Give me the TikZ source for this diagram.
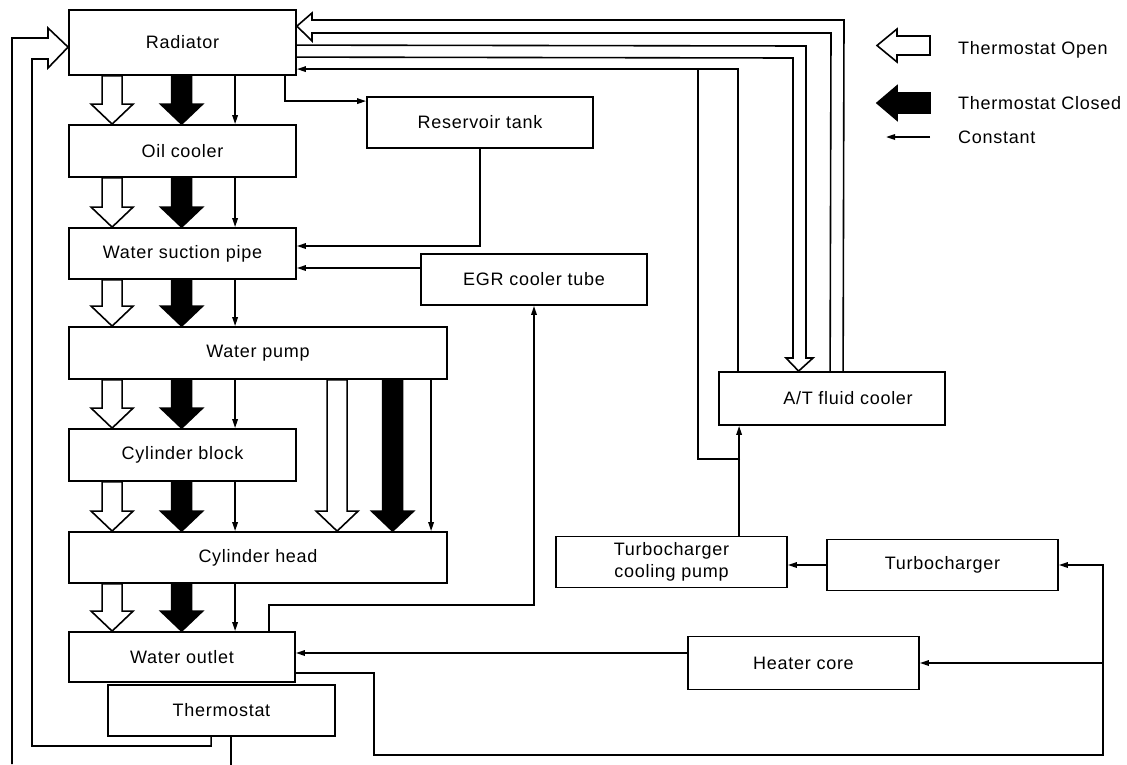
\documentclass[tikz,border=0pt]{standalone}
\usepackage{fontspec}
\setmainfont{Liberation Sans}[LetterSpace=4]
\usetikzlibrary{calc,arrows.meta}
\newcommand\vblk[3]{%
  \filldraw[fill=#1, line width=1.6pt, line join=miter] let \p1=#2, \p2=#3 in
    (\x1-10pt,\y1) -- (\x1+10pt,\y1) -- (\x1+10pt,\y2+20pt) -- (\x1+21pt,\y2+20pt)
    -- (\x1,\y2) -- (\x1-21pt,\y2+20pt) -- (\x1-10pt,\y2+20pt) -- cycle;}
\begin{document}
\begin{tikzpicture}[x=1pt,y=-1pt,
  box/.style={draw, line width=1.8pt, inner sep=0pt, align=center,
    font=\fontsize{18}{22}\selectfont},
  con/.style={line width=1.6pt, -{Triangle[length=9pt,width=5.5pt]}},
  ln/.style={line width=1.6pt, line join=miter},
  legtext/.style={anchor=west, inner sep=0pt, font=\fontsize{18}{22}\selectfont}]
\useasboundingbox (0,0) rectangle (1127,764);

% boxes
\node[box, minimum width=227pt, minimum height=65pt] (rad) at (182.5,42.5) {Radiator};
\node[box, minimum width=227pt, minimum height=52pt] (oil) at (182.5,151) {Oil cooler};
\node[box, minimum width=227pt, minimum height=51pt] (wsp) at (182.5,253.5) {Water suction pipe};
\node[box, minimum width=378pt, minimum height=52pt] (pump) at (258,353) {Water pump};
\node[box, minimum width=227pt, minimum height=52pt] (cblk) at (182.5,455) {Cylinder block};
\node[box, minimum width=378pt, minimum height=51pt] (chead) at (258,557.5) {Cylinder head};
\node[box, minimum width=226pt, minimum height=50pt] (out) at (182,657) {Water outlet};
\node[box, minimum width=227pt, minimum height=51pt] (therm) at (221.5,710.5) {Thermostat};
\node[box, minimum width=226pt, minimum height=51pt] (res) at (480,122.5) {Reservoir tank};
\node[box, minimum width=226pt, minimum height=51pt] (egr) at (534,279.5) {EGR cooler tube};
\node[box, minimum width=226pt, minimum height=53pt] (atf) at (832,398.5) {\hspace*{32pt}A/T fluid cooler};
\node[box, minimum width=231pt, minimum height=51pt] (tcp) at (671.5,562) {Turbocharger\\cooling pump};
\node[box, minimum width=231pt, minimum height=51pt] (tc) at (942.5,565) {Turbocharger};
\node[box, minimum width=231pt, minimum height=53pt] (heat) at (803.5,663) {Heater core};

% main column block arrows
\foreach \a/\b in {rad/oil, oil/wsp, wsp/pump, pump/cblk, cblk/chead, chead/out}{
  \vblk{white}{($(\a.south west)+(44,0)$)}{($(\b.north west)+(44,0)$)}
  \vblk{black}{($(\a.south west)+(113.5,0)$)}{($(\b.north west)+(113.5,0)$)}
  \draw[con] ($(\a.south west)+(167,0)$) -- ($(\b.north west)+(167,0)$);
}
% pump to cylinder head (right side)
\vblk{white}{($(pump.south west)+(269,0)$)}{($(chead.north west)+(269,0)$)}
\vblk{black}{($(pump.south west)+(324.5,0)$)}{($(chead.north west)+(324.5,0)$)}
\draw[con] ($(pump.south west)+(363,0)$) -- ($(chead.north west)+(363,0)$);

% radiator -> reservoir tank
\draw[con] ($(rad.south west)+(217,0)$) |- ($(res.north west)+(0,5)$);
% reservoir tank -> water suction pipe
\draw[con] (res.south) |- ($(wsp.east)+(0,-7.5)$);
% EGR -> water suction pipe
\draw[con] ($(egr.west)+(0,-11.5)$) -- ($(wsp.east)+(0,14.5)$);
% water outlet -> EGR
\draw[con] ($(out.north west)+(201,0)$) -- ++(0,-26) -| (egr.south);
% heater core -> water outlet
\draw[con] ($(heat.west)+(0,-10)$) -- ($(out.east)+(0,-4)$);
% water outlet -> heater core / turbocharger
\coordinate (bl) at (374,755);
\coordinate (br) at (1103,755);
\draw[con] ($(out.east)+(0,16)$) -| (bl) -- (br) |- (tc.east);
\draw[con] (br |- heat.east) -- (heat.east);
% turbocharger -> cooling pump
\draw[con] (tc.west) -- (tcp.east |- tc.west);
% cooling pump -> A/T fluid cooler
\coordinate (j) at (740,459);
\draw[con] ($(tcp.north west)+(184,0)$) -- ($(atf.south west)+(21,0)$);
\draw[ln] (j) -| (698,70);
% A/T fluid cooler -> radiator (constant)
\draw[con] ($(atf.north west)+(20,0)$) |- ($(rad.north east)+(0,60)$);
% A/T fluid cooler -> radiator (thermostat open)
\draw[ln] ($(atf.north west)+(112,0)$) -- (831,33) -- (312,33) -- (312,41)
  -- ($(rad.north east)+(0,17)$) -- (312,13) -- (312,20) -- (844,20)
  -- ($(atf.north west)+(125,0)$);
% radiator -> A/T fluid cooler (thermostat open)
\draw[ln] ($(rad.north east)+(0,36)$) -- (806,46) -- (806,358) -- (813,358)
  -- ($(atf.north west)+(80.5,0)$) -- (786,358) -- (793,358) -- (793,58)
  -- ($(rad.north east)+(0,48)$);
% thermostat -> radiator (left side)
\draw[ln] (12,764) -- (12,38) -- (48,38) -- (48,28) -- ($(rad.north west)+(0,38)$)
  -- (48,68) -- (48,59) -- (32,59) -- (32,746) -| ($(therm.south west)+(104,0)$);
\draw[ln] ($(therm.south west)+(124,0)$) -- ++(0,28);

% legend
\filldraw[ln, fill=white] (930,36) -- (897,36) -- (897,29) -- (877,45.5) -- (897,62)
  -- (897,55) -- (930,55) -- cycle;
\filldraw[ln, fill=black] (930,93) -- (897,93) -- (897,86) -- (877,103) -- (897,120)
  -- (897,113) -- (930,113) -- cycle;
\draw[con] (930,137) -- (886,137);
\node[legtext] (lopen) at (958,50) {Thermostat Open};
\node[legtext] (lclosed) at (958,103) {Thermostat Closed};
\node[legtext] (lconst) at (958,137) {Constant};
\end{tikzpicture}
\end{document}
